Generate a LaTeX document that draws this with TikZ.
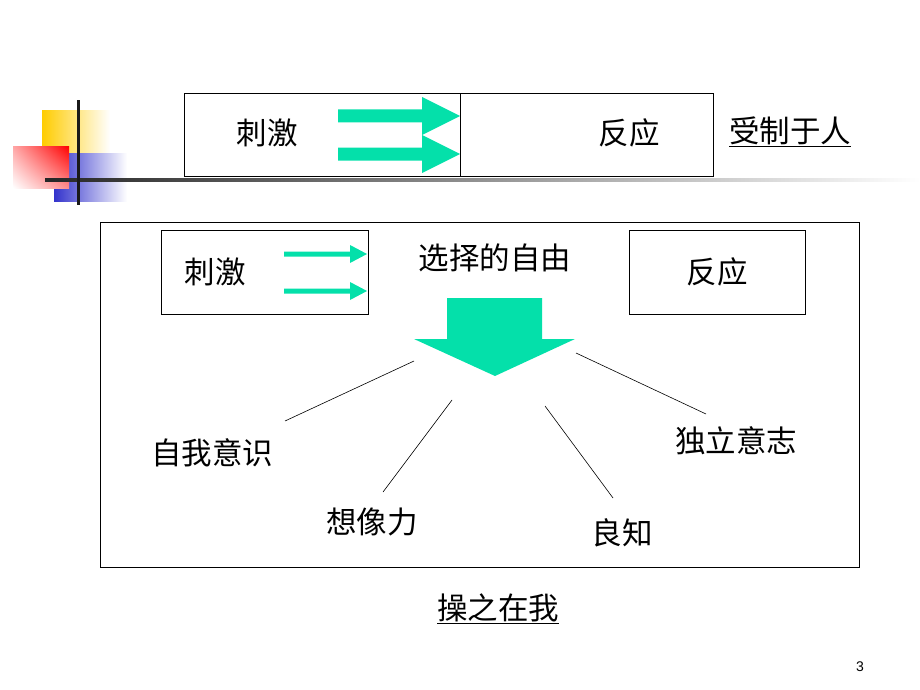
\documentclass[tikz,border=0pt]{standalone}
\usepackage{fontspec}
\setmainfont{Liberation Sans}
\newfontfamily\cjk{Noto Sans CJK SC}
\usepackage{tikz}
\usetikzlibrary{shadings}
\definecolor{arrowgreen}{RGB}{4,224,170}
\definecolor{cornyellow}{RGB}{255,204,0}
\definecolor{cornblue}{RGB}{51,51,204}

\begin{document}
\begin{tikzpicture}[x=1pt, y=-1pt,
  box/.style = {draw, line width=0.9pt, inner sep=0pt},
  word/.style = {font=\cjk\fontsize{30.5}{35}\selectfont, inner sep=0pt},
  link/.style = {line width=0.6pt}]
\useasboundingbox (0,0) rectangle (920,690);
% corner decoration
\shade[left color=cornyellow, middle color=cornyellow, right color=white] (42,111) rectangle (110,153);
\shade[left color=cornblue, middle color=cornblue, right color=white] (54,153) rectangle (127,201);
\shade[upper right=red, upper left=red!35, lower right=red!45, lower left=white] (13,146) rectangle (69,188);
\shade[left color=black!85, right color=white] (45,178.5) rectangle (920,181.5);
\fill[black!90] (76.5,100) rectangle (79.5,205);

% top row
\node[box, minimum width=276, minimum height=83] (stimA) at (322,134.5) {};
\node[box, minimum width=253, minimum height=83] (respA) at (586.5,134.5) {};
\node[word] (s1) at (267,133) {刺激};
\node[word] (r1) at (629,133) {反应};
\node[word] (ctrl) at (790,131.5) {\underline{受制于人}};
\foreach \yc in {116,154}
  \fill[arrowgreen] (338,\yc-6.5) -- (422,\yc-6.5) -- (422,\yc-19) -- (460,\yc)
    -- (422,\yc+19) -- (422,\yc+6.5) -- (338,\yc+6.5) -- cycle;

% big frame
\node[box, minimum width=759, minimum height=345] (frame) at (479.5,394.5) {};
\node[box, minimum width=207, minimum height=84] (stimB) at (264.5,272) {};
\node[box, minimum width=176, minimum height=84] (respB) at (717,272) {};
\node[word] (s2) at (215,272) {刺激};
\node[word] (r2) at (717,272) {反应};
\node[word] (free) at (495,258) {选择的自由};
\foreach \yc in {254,291}
  \fill[arrowgreen] (284,\yc-2.5) -- (350,\yc-2.5) -- (350,\yc-9) -- (367,\yc)
    -- (350,\yc+9) -- (350,\yc+2.5) -- (284,\yc+2.5) -- cycle;
\fill[arrowgreen] (447,298) -- (542,298) -- (542,339) -- (575,339) -- (495,376)
  -- (414,339) -- (447,339) -- cycle;

% four gifts
\node[word] (aware) at (212,453) {自我意识};
\node[word] (imag) at (372,522) {想像力};
\node[word] (consc) at (622,533) {良知};
\node[word] (will) at (736,441) {独立意志};
\coordinate (a1) at (414,361); \coordinate (a2) at (285,421);
\coordinate (b1) at (452,400); \coordinate (b2) at (383,492);
\coordinate (c1) at (545,406); \coordinate (c2) at (613,498);
\coordinate (d1) at (576,353); \coordinate (d2) at (706,414);
\draw[link] (a1) -- (a2);
\draw[link] (b1) -- (b2);
\draw[link] (c1) -- (c2);
\draw[link] (d1) -- (d2);

\node[word] (self) at (498,608.5) {\underline{操之在我}};
\node[font=\fontsize{14}{16}\selectfont] (page) at (860,667) {3};
\end{tikzpicture}
\end{document}
